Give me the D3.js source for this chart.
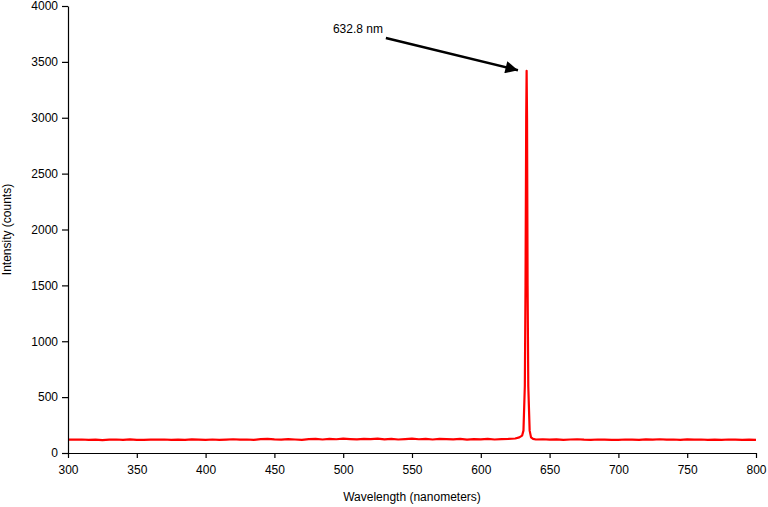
<!DOCTYPE html>
<html><head><meta charset="utf-8">
<script src="https://cdn.jsdelivr.net/npm/d3@7"></script>
<style>body{margin:0;background:#fff;} text{font-family:"Liberation Sans",Arial,sans-serif;}</style>
</head><body><svg id="c" width="768" height="507"></svg>
<script>
const wavelengths = [300,305,310,315,320,325,330,335,340,345,350,355,360,365,370,375,380,385,390,395,400,405,410,415,420,425,430,435,440,445,450,455,460,465,470,475,480,485,490,495,500,505,510,515,520,525,530,535,540,545,550,555,560,565,570,575,580,585,590,595,600,605,610,615,620,625,628,630,631,632,632.5,633,633.3,633.6,634,634.5,635.5,636.5,638,640,645,650,655,660,665,670,675,680,685,690,695,700,705,710,715,720,725,730,735,740,745,750,755,760,765,770,775,780,785,790,795,800];
const intensity = [120,119,121,118,120,116,119,121,118,122,118,117,120,119,121,117,120,118,122,119,117,121,118,120,123,119,121,118,124,127,122,120,125,121,118,124,126,121,127,123,129,125,122,127,124,128,122,126,121,125,129,123,126,121,127,124,122,126,120,125,122,127,121,124,126,130,140,155,200,600,1500,3000,3420,3000,1500,600,200,140,126,121,123,119,122,118,121,123,119,117,121,120,118,117,121,119,118,122,120,123,119,121,118,122,119,121,118,120,117,121,119,118,120,117];
const xTicks = [300,350,400,450,500,550,600,650,700,750,800];
const yTicks = [0,500,1000,1500,2000,2500,3000,3500,4000];
const annotationText = "632.8 nm";
const annotationTextPos = [492.5, 3760];
const arrowTail = [531, 3714];
const arrowHead = [627, 3425];

const svg = d3.select("#c");
const W = 768, H = 507;
const m = {left:68, right:12, top:6, bottom:54};
const x = d3.scaleLinear().domain([300,800]).range([m.left, W-m.right]);
const y = d3.scaleLinear().domain([0,4000]).range([H-m.bottom, m.top]);

const defs = svg.append("defs");
defs.append("marker").attr("id","ah").attr("viewBox","0 0 10 10").attr("refX",10).attr("refY",5)
  .attr("markerWidth",6).attr("markerHeight",5).attr("orient","auto").attr("markerUnits","strokeWidth")
  .append("path").attr("d","M0,0 L10,5 L0,10 Z").attr("fill","#000");

const line = d3.line().x((d,i)=>x(wavelengths[i])).y(d=>y(d));
svg.append("path").datum(intensity).attr("d",line).attr("fill","none")
  .attr("stroke","#ff0000").attr("stroke-width",2.2).attr("stroke-linejoin","round");

const xa = svg.append("g").attr("transform",`translate(0,${H-m.bottom})`)
  .call(d3.axisBottom(x).tickValues(xTicks).tickFormat(d3.format("d")).tickSize(5).tickPadding(7).tickSizeOuter(0));
const ya = svg.append("g").attr("transform",`translate(${m.left},0)`)
  .call(d3.axisLeft(y).tickValues(yTicks).tickFormat(d3.format("d")).tickSize(6).tickPadding(4).tickSizeOuter(0));
[xa,ya].forEach(g=>{
  g.selectAll("path,line").attr("stroke","#000").attr("stroke-width",1.2);
  g.selectAll("text").attr("font-size",12).attr("fill","#000").attr("font-family","Liberation Sans, Arial, sans-serif");
});

svg.append("text").attr("x",(m.left+W-m.right)/2).attr("y",501).attr("text-anchor","middle")
  .attr("font-size",12).text("Wavelength (nanometers)");
svg.append("text").attr("transform",`translate(11,${(m.top+H-m.bottom)/2}) rotate(-90)`).attr("text-anchor","middle")
  .attr("font-size",12).text("Intensity (counts)");

svg.append("text").attr("x",x(annotationTextPos[0])).attr("y",y(annotationTextPos[1])).attr("font-size",12).text(annotationText);
svg.append("line").attr("x1",x(arrowTail[0])).attr("y1",y(arrowTail[1])).attr("x2",x(arrowHead[0])).attr("y2",y(arrowHead[1]))
  .attr("stroke","#000").attr("stroke-width",2.5).attr("marker-end","url(#ah)");
</script></body></html>
